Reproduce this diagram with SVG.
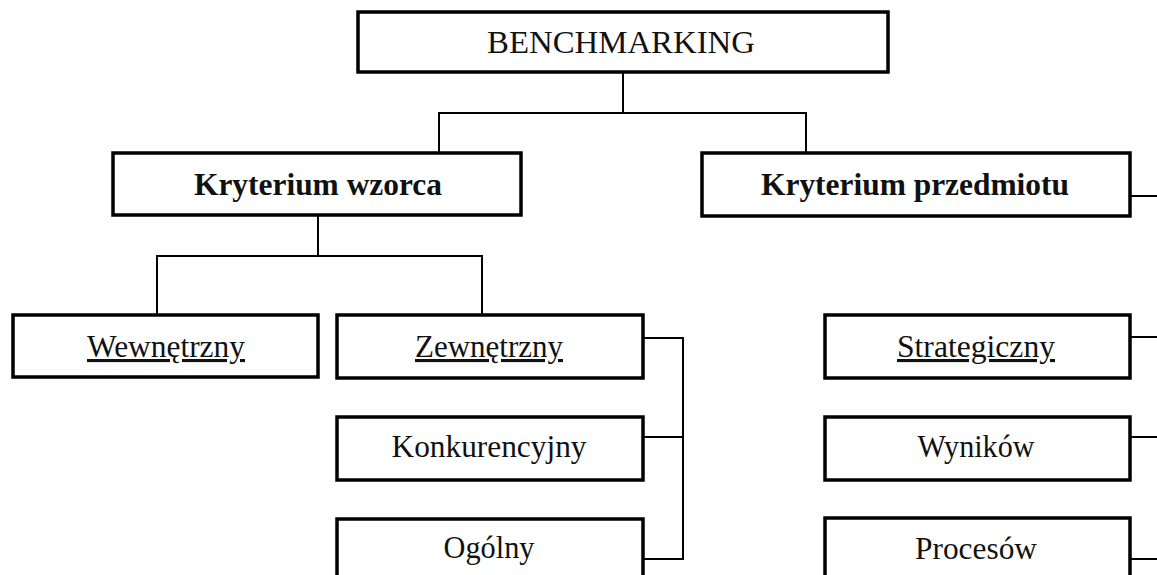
<svg xmlns="http://www.w3.org/2000/svg" width="1157" height="575" viewBox="0 0 1157 575">
<style>
.box{fill:#fff;stroke:#000;stroke-width:3.5}
.con{fill:none;stroke:#000;stroke-width:2}
text{font-family:"Liberation Serif","Times New Roman",serif;fill:#111;text-anchor:middle}
.t{font-size:31px}
.b{font-size:31px;font-weight:bold}
.u{text-decoration:underline}
</style>
<rect width="1157" height="575" fill="#fff"/>
<g id="connectors">
<path class="con" d="M623 72V113M439 153V113H806V153"/>
<path class="con" d="M318 215V256M157 315V256H482V315"/>
<path class="con" d="M1130 196H1157"/>
<path class="con" d="M643 338H683V559H643M643 437H683"/>
<path class="con" d="M1130 337H1157M1130 437H1157M1130 559H1157"/>
</g>
<g id="benchmarking"><rect class="box" x="358" y="12" width="530" height="60"/><text class="t" x="621" y="53" textLength="268" lengthAdjust="spacingAndGlyphs">BENCHMARKING</text></g>
<g id="kryterium-wzorca"><rect class="box" x="113" y="153" width="408" height="62"/><text class="b" x="318" y="195" textLength="248" lengthAdjust="spacingAndGlyphs">Kryterium wzorca</text></g>
<g id="kryterium-przedmiotu"><rect class="box" x="702" y="153" width="428" height="63"/><text class="b" x="915" y="195" textLength="308" lengthAdjust="spacingAndGlyphs">Kryterium przedmiotu</text></g>
<g id="wewnetrzny"><rect class="box" x="13" y="315" width="305" height="62"/><text class="t u" x="166" y="357" textLength="158" lengthAdjust="spacingAndGlyphs">Wewnętrzny</text></g>
<g id="zewnetrzny"><rect class="box" x="337" y="315" width="306" height="63"/><text class="t u" x="489" y="357" textLength="148" lengthAdjust="spacingAndGlyphs">Zewnętrzny</text></g>
<g id="konkurencyjny"><rect class="box" x="337" y="417" width="306" height="63"/><text class="t" x="489" y="457" textLength="195" lengthAdjust="spacingAndGlyphs">Konkurencyjny</text></g>
<g id="ogolny"><rect class="box" x="337" y="519" width="306" height="70"/><text class="t" x="489" y="558" textLength="91" lengthAdjust="spacingAndGlyphs">Ogólny</text></g>
<g id="strategiczny"><rect class="box" x="825" y="315" width="305" height="63"/><text class="t u" x="976" y="357" textLength="158" lengthAdjust="spacingAndGlyphs">Strategiczny</text></g>
<g id="wynikow"><rect class="box" x="825" y="417" width="305" height="63"/><text class="t" x="976" y="457" textLength="117" lengthAdjust="spacingAndGlyphs">Wyników</text></g>
<g id="procesow"><rect class="box" x="825" y="518" width="305" height="70"/><text class="t" x="976" y="559" textLength="122" lengthAdjust="spacingAndGlyphs">Procesów</text></g>
</svg>
